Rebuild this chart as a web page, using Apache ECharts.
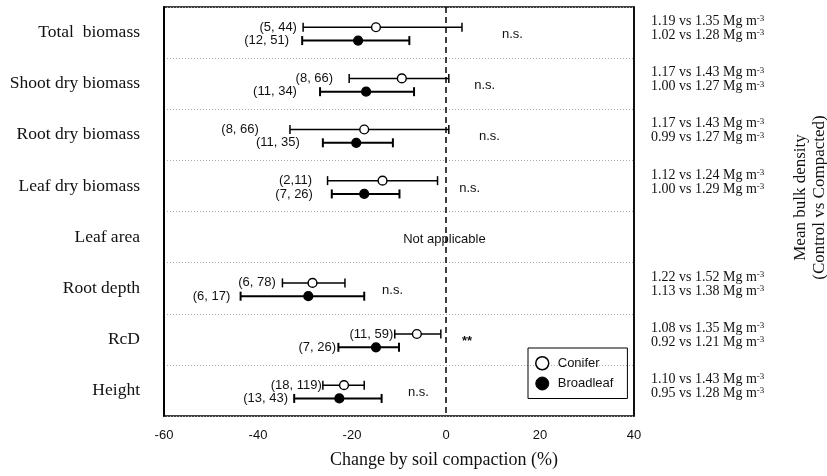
<!DOCTYPE html>
<html>
<head>
<meta charset="utf-8">
<script src="https://cdn.jsdelivr.net/npm/echarts@6/dist/echarts.min.js"></script>
<style>
  html, body { margin: 0; background: #fff; }
  #chart { width: 827px; height: 476px; }
</style>
</head>
<body>
<div id="chart"></div>
<script>
const traits = ['Total  biomass', 'Shoot dry biomass', 'Root dry biomass', 'Leaf dry biomass', 'Leaf area', 'Root depth', 'RcD', 'Height'];

// change by soil compaction (%): mean and 95% CI, null = not applicable
const coniferMean = [-14.9, -9.4, -17.4, -13.5, null, -28.4, -6.2, -21.7];
const coniferLow = [-30.4, -20.6, -33.2, -25.2, null, -34.8, -10.9, -26.2];
const coniferHigh = [3.4, 0.6, 0.6, -1.8, null, -21.5, -1.1, -17.4];
const broadleafMean = [-18.7, -17.0, -19.1, -17.4, null, -29.3, -14.9, -22.7];
const broadleafLow = [-30.6, -26.8, -26.2, -24.3, null, -43.7, -22.9, -32.3];
const broadleafHigh = [-7.8, -6.8, -11.3, -9.9, null, -17.4, -10.0, -13.7];

// (studies, observations)
const coniferN = ['(5, 44)', '(8, 66)', '(8, 66)', '(2,11)', '', '(6, 78)', '(11, 59)', '(18, 119)'];
const broadleafN = ['(12, 51)', '(11, 34)', '(11, 35)', '(7, 26)', '', '(6, 17)', '(7, 26)', '(13, 43)'];
// where each count label ends, on the % axis
const coniferNAt = [-31.5, -23.8, -39.6, -28.3, null, -36.0, -11.0, -26.2];
const broadleafNAt = [-33.2, -31.5, -30.9, -28.1, null, -45.7, -23.2, -33.4];

const significance = ['n.s.', 'n.s.', 'n.s.', 'n.s.', 'Not applicable', 'n.s.', '**', 'n.s.'];
const significanceAt = [11.9, 6.0, 7.0, 2.8, -9.1, -13.6, 3.4, -8.1];

// mean bulk density, control vs compacted (Mg m-3)
const coniferDensity = ['1.19 vs 1.35', '1.17 vs 1.43', '1.17 vs 1.43', '1.12 vs 1.24', '', '1.22 vs 1.52', '1.08 vs 1.35', '1.10 vs 1.43'];
const broadleafDensity = ['1.02 vs 1.28', '1.00 vs 1.27', '0.99 vs 1.27', '1.00 vs 1.29', '', '1.13 vs 1.38', '0.92 vs 1.21', '0.95 vs 1.28'];

const xMin = -60, xMax = 40, xStep = 20;

const chart = echarts.init(document.getElementById('chart'));

function rows(mean, low, high, at) {
  return traits.map((t, i) => [i, low[i], high[i], mean[i], at[i]]).filter((r) => r[3] !== null);
}

function errorBar(labels, dy, filled, lw) {
  return function (params, api) {
    const i = api.value(0);
    const lo = api.coord([api.value(1), i]);
    const hi = api.coord([api.value(2), i]);
    const mid = api.coord([api.value(3), i]);
    const lab = api.coord([api.value(4), i]);
    const y = lo[1] + dy;
    const cap = 4.5;
    const line = { stroke: '#000', lineWidth: lw };
    return {
      type: 'group',
      children: [
        { type: 'line', shape: { x1: lo[0], y1: y, x2: hi[0], y2: y }, style: line },
        { type: 'line', shape: { x1: lo[0], y1: y - cap, x2: lo[0], y2: y + cap }, style: line },
        { type: 'line', shape: { x1: hi[0], y1: y - cap, x2: hi[0], y2: y + cap }, style: line },
        { type: 'circle', shape: { cx: mid[0], cy: y, r: 4.4 }, style: { fill: filled ? '#000' : '#fff', stroke: '#000', lineWidth: 1.4 } },
        {
          type: 'text', x: lab[0] - 1, y: y,
          style: { text: labels[i], fill: '#111', font: '13px "Liberation Sans"', textAlign: 'right', textVerticalAlign: 'middle' }
        }
      ]
    };
  };
}

chart.setOption({
  animation: false,
  grid: {
    left: 164, right: 193, top: 7, bottom: 60,
    outerBoundsMode: 'none',
    show: true, borderColor: '#000', borderWidth: 1.5
  },
  legend: {
    orient: 'vertical',
    left: 528,
    top: 348,
    padding: [8, 14, 8, 7],
    itemGap: 6,
    itemWidth: 13,
    itemHeight: 13,
    borderColor: '#000',
    borderWidth: 1,
    textStyle: { fontFamily: 'Liberation Sans', fontSize: 13, color: '#111', padding: [0, 0, 0, 4] },
    data: [
      { name: 'Conifer', icon: 'circle', itemStyle: { color: '#fff', borderColor: '#000', borderWidth: 1.5 } },
      { name: 'Broadleaf', icon: 'circle', itemStyle: { color: '#000', borderColor: '#000', borderWidth: 1 } }
    ]
  },
  xAxis: {
    type: 'value',
    min: xMin,
    max: xMax,
    interval: xStep,
    splitLine: { show: false },
    axisLine: { onZero: false, lineStyle: { color: '#000', width: 2 } },
    axisTick: { length: 5, lineStyle: { color: '#000', width: 2 } },
    axisLabel: { color: '#111', fontFamily: 'Liberation Sans', fontSize: 13, margin: 13 },
    name: 'Change by soil compaction (%)',
    nameLocation: 'middle',
    nameGap: 35,
    nameTextStyle: { fontFamily: 'Liberation Serif', fontSize: 18, color: '#111', padding: [0, 0, 0, 90] }
  },
  yAxis: [
    {
      type: 'category',
      data: traits,
      inverse: true,
      axisLine: { onZero: false, lineStyle: { color: '#000', width: 2 } },
      axisTick: { alignWithLabel: true, length: 6, lineStyle: { color: '#000', width: 2 } },
      axisLabel: { color: '#111', fontFamily: 'Liberation Serif', fontSize: 17.5, margin: 24 },
      splitLine: { show: true, lineStyle: { color: '#aaa', type: [1, 2], width: 1 } }
    },
    {
      type: 'category',
      data: traits,
      inverse: true,
      position: 'right',
      axisLine: { show: true, onZero: false, lineStyle: { color: '#000', width: 1.5 } },
      axisTick: { show: false },
      axisLabel: {
        margin: 17,
        padding: [0, 0, 8, 0],
        formatter: (v, i) => coniferDensity[i]
          ? `{t|${coniferDensity[i]} Mg m}{s|-3}\n{t|${broadleafDensity[i]} Mg m}{s|-3}`
          : '',
        rich: {
          t: { fontFamily: 'Liberation Serif', fontSize: 14, lineHeight: 14, color: '#111' },
          s: { fontFamily: 'Liberation Serif', fontSize: 9, lineHeight: 14, verticalAlign: 'top', color: '#111' }
        }
      },
      name: 'Mean bulk density\n(Control vs Compacted)',
      nameLocation: 'middle',
      nameRotate: 90,
      nameGap: 157,
      nameTextStyle: { fontFamily: 'Liberation Serif', fontSize: 17, lineHeight: 19, color: '#111', padding: [0, 0, 0, 28] }
    }
  ],
  series: [
    {
      name: 'Conifer',
      type: 'custom',
      renderItem: errorBar(coniferN, -5.3, false, 1.5),
      encode: { x: [1, 2, 3, 4], y: 0 },
      data: rows(coniferMean, coniferLow, coniferHigh, coniferNAt),
      markLine: {
        silent: true,
        symbol: ['none', 'none'],
        label: { show: false },
        lineStyle: { color: '#000', width: 1.5, type: [6, 4] },
        data: [{ xAxis: 0 }]
      }
    },
    {
      name: 'Broadleaf',
      type: 'custom',
      renderItem: errorBar(broadleafN, 8, true, 2),
      encode: { x: [1, 2, 3, 4], y: 0 },
      data: rows(broadleafMean, broadleafLow, broadleafHigh, broadleafNAt)
    },
    {
      name: 'significance',
      type: 'custom',
      renderItem: (params, api) => {
        const i = api.value(0);
        const p = api.coord([api.value(1), i]);
        return {
          type: 'text', x: p[0], y: p[1] + 2,
          style: {
            text: significance[i], fill: '#111',
            font: (significance[i] === '**' ? 'bold ' : '') + '13px "Liberation Sans"',
            textAlign: 'left', textVerticalAlign: 'middle'
          }
        };
      },
      encode: { x: 1, y: 0 },
      data: traits.map((t, i) => [i, significanceAt[i]])
    }
  ]
});
</script>
</body>
</html>
